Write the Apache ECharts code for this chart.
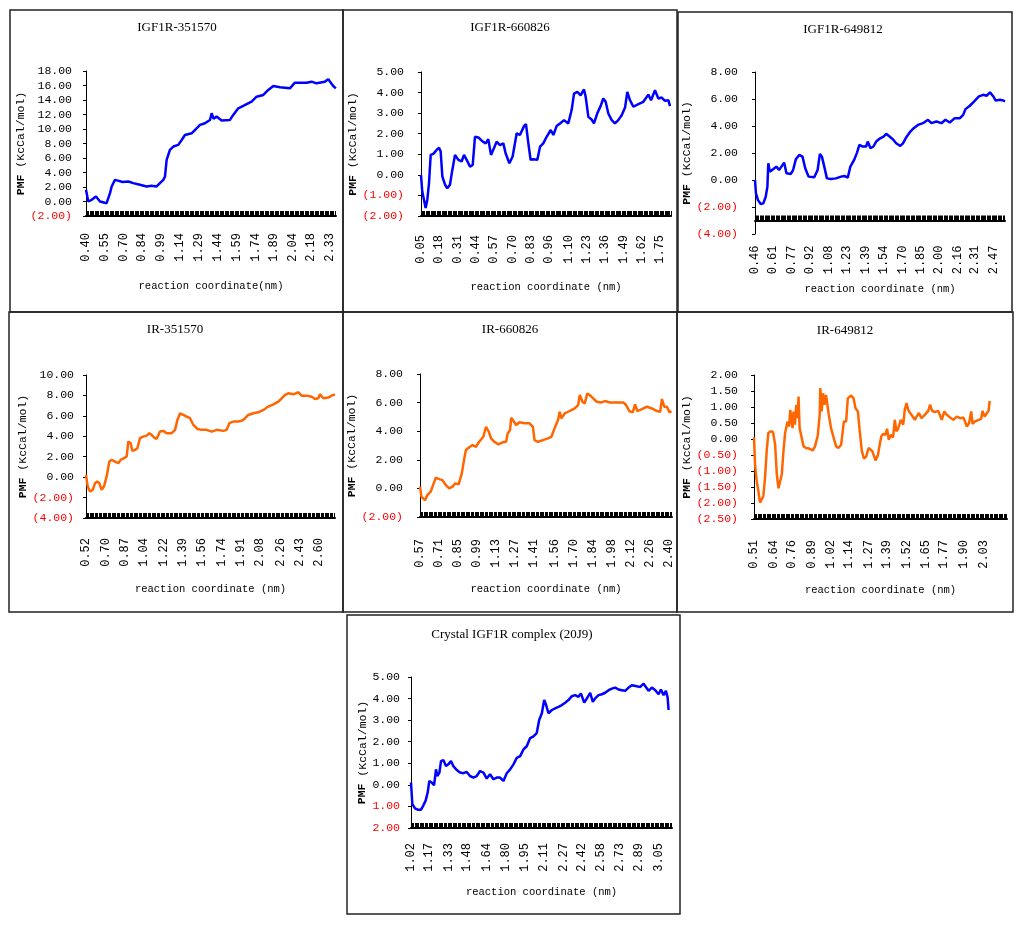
<!DOCTYPE html>
<html><head><meta charset="utf-8">
<script src="https://cdn.jsdelivr.net/npm/echarts@6/dist/echarts.min.js"></script>
<style>html,body{margin:0;padding:0;background:#fff}#c{width:1024px;height:926px}</style>
</head><body><div id="c"></div>
<script>
// ---------- tick labels (reaction coordinate, nm) ----------
const ticksIGF351570 = [0.40,0.55,0.70,0.84,0.99,1.14,1.29,1.44,1.59,1.74,1.89,2.04,2.18,2.33];
const ticksIGF660826 = [0.05,0.18,0.31,0.44,0.57,0.70,0.83,0.96,1.10,1.23,1.36,1.49,1.62,1.75];
const ticksIGF649812 = [0.46,0.61,0.77,0.92,1.08,1.23,1.39,1.54,1.70,1.85,2.00,2.16,2.31,2.47];
const ticksIR351570  = [0.52,0.70,0.87,1.04,1.22,1.39,1.56,1.74,1.91,2.08,2.26,2.43,2.60];
const ticksIR660826  = [0.57,0.71,0.85,0.99,1.13,1.27,1.41,1.56,1.70,1.84,1.98,2.12,2.26,2.40];
const ticksIR649812  = [0.51,0.64,0.76,0.89,1.02,1.14,1.27,1.39,1.52,1.65,1.77,1.90,2.03];
const ticksCrystal   = [1.02,1.17,1.33,1.48,1.64,1.80,1.95,2.11,2.27,2.42,2.58,2.73,2.89,3.05];

// ---------- series: [reaction coordinate (nm), PMF (kcal/mol)] ----------
const dataIGF351570 = [[0.400,1.61],[0.418,0.00],[0.445,0.23],[0.479,0.69],[0.511,0.00],[0.524,-0.23],[0.563,-0.23],[0.590,1.15],[0.603,2.07],[0.629,2.98],[0.643,2.75],[0.690,2.70],[0.735,2.75],[0.774,2.53],[0.827,2.30],[0.880,2.07],[0.919,2.16],[0.959,2.07],[0.985,2.53],[1.012,2.98],[1.025,3.44],[1.038,5.74],[1.064,7.12],[1.091,7.58],[1.130,7.81],[1.157,8.49],[1.183,9.18],[1.236,9.41],[1.275,10.10],[1.302,10.56],[1.341,10.79],[1.381,11.25],[1.394,12.17],[1.410,11.40],[1.433,11.71],[1.473,11.16],[1.539,11.25],[1.565,11.94],[1.605,12.86],[1.644,13.18],[1.710,13.77],[1.750,14.46],[1.803,14.69],[1.842,15.38],[1.882,15.93],[1.934,15.75],[2.013,15.61],[2.053,16.39],[2.145,16.39],[2.185,16.53],[2.224,16.30],[2.290,16.53],[2.317,16.85],[2.356,15.93],[2.377,15.61]];
const dataIGF660826 = [[0.050,0.00],[0.059,-0.81],[0.071,-1.21],[0.083,-1.61],[0.095,-1.21],[0.107,-0.40],[0.119,0.97],[0.138,1.02],[0.161,1.21],[0.178,1.32],[0.190,1.13],[0.202,-0.08],[0.221,-0.48],[0.237,-0.65],[0.256,-0.48],[0.273,0.24],[0.292,0.97],[0.316,0.73],[0.339,0.65],[0.356,0.97],[0.375,0.73],[0.399,0.40],[0.418,0.48],[0.434,1.85],[0.458,1.82],[0.482,1.66],[0.510,1.53],[0.529,1.73],[0.548,0.97],[0.569,1.29],[0.588,1.61],[0.612,1.45],[0.636,1.53],[0.652,1.05],[0.679,0.56],[0.702,0.89],[0.731,2.02],[0.754,1.94],[0.783,2.37],[0.797,2.47],[0.814,1.53],[0.830,0.73],[0.849,0.76],[0.878,0.73],[0.897,1.37],[0.920,1.53],[0.944,1.85],[0.973,2.18],[0.992,1.94],[1.015,2.37],[1.039,2.50],[1.068,2.66],[1.098,2.50],[1.122,3.15],[1.139,3.95],[1.162,4.03],[1.186,3.87],[1.210,4.15],[1.222,3.79],[1.241,2.82],[1.264,2.69],[1.281,2.50],[1.305,3.00],[1.328,3.34],[1.347,3.71],[1.364,3.55],[1.383,2.98],[1.407,2.66],[1.430,2.50],[1.454,2.66],[1.478,2.90],[1.502,3.27],[1.518,4.03],[1.537,3.63],[1.561,3.31],[1.597,3.44],[1.632,3.55],[1.668,3.90],[1.687,3.63],[1.715,4.11],[1.739,3.71],[1.763,3.76],[1.786,3.60],[1.810,3.63],[1.822,3.34]];
const dataIGF649812 = [[0.460,0.00],[0.468,-0.99],[0.485,-1.49],[0.508,-1.78],[0.530,-1.73],[0.550,-1.24],[0.564,-0.50],[0.572,1.24],[0.584,0.62],[0.612,0.79],[0.640,0.99],[0.662,0.74],[0.682,0.99],[0.705,1.29],[0.724,0.50],[0.761,0.45],[0.780,0.74],[0.803,1.53],[0.831,1.86],[0.859,1.73],[0.882,0.87],[0.910,0.25],[0.958,0.20],[0.986,0.74],[1.005,1.93],[1.022,1.73],[1.042,0.99],[1.064,0.12],[1.098,0.07],[1.140,0.12],[1.183,0.25],[1.211,0.30],[1.239,0.17],[1.261,0.99],[1.295,1.53],[1.317,2.03],[1.337,2.60],[1.365,2.48],[1.393,2.48],[1.407,2.85],[1.430,2.35],[1.455,2.48],[1.478,2.85],[1.511,3.09],[1.540,3.22],[1.562,3.42],[1.590,3.22],[1.618,3.02],[1.646,2.72],[1.680,2.52],[1.703,2.72],[1.731,3.17],[1.765,3.59],[1.793,3.84],[1.829,4.08],[1.871,4.21],[1.913,4.46],[1.942,4.21],[1.984,4.33],[2.026,4.21],[2.060,4.46],[2.096,4.26],[2.138,4.58],[2.181,4.58],[2.209,4.83],[2.228,5.25],[2.265,5.50],[2.301,5.82],[2.341,6.19],[2.377,6.31],[2.405,6.24],[2.434,6.49],[2.462,6.19],[2.481,5.89],[2.518,5.94],[2.546,5.89],[2.560,5.82]];
const dataIR351570 = [[0.520,0.23],[0.535,-0.91],[0.556,-1.40],[0.580,-1.24],[0.601,-0.59],[0.621,-0.42],[0.639,-0.59],[0.660,-1.24],[0.681,-0.91],[0.705,0.07],[0.729,1.53],[0.750,1.69],[0.780,1.53],[0.809,1.37],[0.830,1.69],[0.860,1.86],[0.884,2.02],[0.899,3.49],[0.920,3.32],[0.935,2.57],[0.959,2.67],[0.980,2.83],[1.003,3.81],[1.033,3.97],[1.063,4.07],[1.087,4.30],[1.108,4.14],[1.129,3.88],[1.153,3.75],[1.182,4.46],[1.212,4.53],[1.242,4.30],[1.287,4.30],[1.317,4.63],[1.338,5.60],[1.362,6.25],[1.391,6.09],[1.421,5.93],[1.451,5.77],[1.481,5.11],[1.517,4.72],[1.556,4.63],[1.600,4.63],[1.645,4.46],[1.690,4.63],[1.749,4.53],[1.779,4.63],[1.803,5.28],[1.839,5.44],[1.884,5.44],[1.929,5.60],[1.973,6.09],[2.018,6.25],[2.063,6.35],[2.108,6.58],[2.152,6.91],[2.197,7.13],[2.242,7.39],[2.272,7.72],[2.302,8.05],[2.331,8.21],[2.376,8.11],[2.421,8.31],[2.451,7.98],[2.496,7.98],[2.540,7.88],[2.570,7.65],[2.600,7.72],[2.615,8.11],[2.645,7.72],[2.690,7.79],[2.719,7.98],[2.749,8.11]];
const dataIR660826 = [[0.570,0.12],[0.580,-0.58],[0.592,-0.70],[0.607,-0.82],[0.624,-0.47],[0.649,-0.23],[0.666,0.23],[0.686,0.75],[0.711,0.65],[0.735,0.58],[0.760,0.23],[0.785,0.00],[0.809,0.12],[0.829,0.35],[0.854,0.28],[0.878,1.05],[0.896,2.10],[0.908,2.68],[0.937,2.91],[0.957,3.03],[0.982,2.91],[1.006,3.26],[1.036,3.61],[1.056,4.31],[1.076,3.96],[1.093,3.50],[1.117,3.26],[1.147,3.08],[1.179,3.22],[1.204,3.26],[1.216,3.85],[1.233,4.08],[1.241,4.94],[1.253,4.78],[1.278,4.43],[1.302,4.62],[1.339,4.55],[1.376,4.55],[1.401,4.31],[1.413,3.38],[1.438,3.26],[1.475,3.38],[1.512,3.50],[1.537,3.61],[1.561,4.20],[1.586,4.78],[1.598,5.36],[1.611,4.90],[1.635,5.24],[1.660,5.36],[1.685,5.48],[1.709,5.59],[1.734,5.83],[1.746,6.53],[1.766,6.06],[1.783,5.94],[1.801,6.64],[1.820,6.53],[1.845,6.29],[1.870,6.06],[1.907,6.01],[1.931,6.11],[1.968,6.01],[2.018,6.01],[2.067,6.01],[2.087,5.83],[2.111,5.41],[2.136,5.31],[2.153,5.87],[2.170,5.41],[2.203,5.55],[2.240,5.71],[2.277,5.59],[2.314,5.41],[2.338,5.36],[2.351,6.25],[2.368,5.71],[2.388,5.71],[2.407,5.31],[2.420,5.41]];
const dataIR649812 = [[0.510,0.05],[0.517,-0.80],[0.528,-1.32],[0.539,-1.63],[0.550,-1.99],[0.559,-2.04],[0.572,-1.78],[0.583,-1.21],[0.594,-0.38],[0.605,0.19],[0.621,0.24],[0.636,0.22],[0.650,-0.18],[0.661,-1.11],[0.672,-1.54],[0.683,-1.52],[0.694,-1.11],[0.705,-0.38],[0.716,0.19],[0.732,0.55],[0.743,0.39],[0.750,0.91],[0.758,0.65],[0.765,0.34],[0.772,0.86],[0.781,0.45],[0.790,1.07],[0.798,0.65],[0.805,1.33],[0.812,0.34],[0.821,0.29],[0.838,-0.23],[0.854,-0.28],[0.876,-0.30],[0.898,-0.36],[0.914,-0.23],[0.932,0.11],[0.945,0.76],[0.949,1.59],[0.958,0.86],[0.967,1.43],[0.976,1.07],[0.987,1.38],[0.998,1.38],[1.005,0.76],[1.020,0.34],[1.038,0.03],[1.054,-0.23],[1.069,-0.28],[1.087,-0.18],[1.105,0.55],[1.120,0.55],[1.131,1.27],[1.153,1.36],[1.169,1.27],[1.182,0.96],[1.198,0.86],[1.209,0.29],[1.224,-0.38],[1.238,-0.61],[1.253,-0.54],[1.269,-0.28],[1.282,-0.23],[1.293,-0.38],[1.304,-0.44],[1.315,-0.67],[1.331,-0.49],[1.342,-0.18],[1.353,0.08],[1.364,0.16],[1.380,0.13],[1.391,0.32],[1.402,-0.02],[1.416,0.13],[1.431,0.05],[1.442,0.60],[1.453,0.24],[1.464,0.32],[1.482,0.60],[1.498,0.45],[1.508,0.91],[1.520,1.12],[1.531,0.91],[1.544,0.81],[1.557,0.76],[1.575,0.60],[1.586,0.70],[1.602,0.81],[1.619,0.65],[1.642,0.76],[1.664,0.88],[1.675,1.07],[1.690,0.88],[1.708,0.84],[1.730,0.88],[1.753,0.60],[1.770,0.86],[1.786,0.76],[1.808,0.67],[1.830,0.60],[1.852,0.70],[1.875,0.65],[1.897,0.67],[1.919,0.39],[1.934,0.50],[1.948,0.86],[1.957,0.47],[1.974,0.55],[1.997,0.60],[2.014,0.63],[2.023,0.88],[2.037,0.70],[2.052,0.81],[2.063,0.88],[2.070,1.19]];
const dataCrystal = [[1.020,0.11],[1.031,-0.89],[1.053,-1.09],[1.075,-1.15],[1.102,-1.15],[1.121,-0.96],[1.140,-0.73],[1.157,-0.35],[1.170,0.18],[1.190,0.11],[1.209,-0.02],[1.225,0.72],[1.236,0.41],[1.253,0.57],[1.266,1.10],[1.285,1.15],[1.307,0.87],[1.326,0.95],[1.348,1.10],[1.367,0.87],[1.395,0.69],[1.422,0.57],[1.450,0.54],[1.477,0.60],[1.504,0.41],[1.532,0.34],[1.559,0.41],[1.586,0.64],[1.614,0.57],[1.641,0.29],[1.668,0.49],[1.696,0.26],[1.723,0.34],[1.750,0.34],[1.778,0.18],[1.805,0.54],[1.833,0.72],[1.860,0.95],[1.887,1.25],[1.915,1.33],[1.942,1.64],[1.969,1.79],[1.997,2.17],[2.024,2.25],[2.051,2.40],[2.071,3.01],[2.093,3.32],[2.112,3.93],[2.128,3.70],[2.147,3.32],[2.175,3.47],[2.202,3.55],[2.229,3.62],[2.257,3.70],[2.284,3.81],[2.311,3.93],[2.339,4.11],[2.366,4.16],[2.393,4.08],[2.413,4.24],[2.440,3.81],[2.467,4.05],[2.489,4.27],[2.511,3.85],[2.530,4.01],[2.558,4.16],[2.585,4.20],[2.612,4.27],[2.640,4.39],[2.667,4.46],[2.694,4.51],[2.722,4.42],[2.749,4.39],[2.776,4.36],[2.804,4.51],[2.831,4.62],[2.872,4.57],[2.900,4.54],[2.927,4.69],[2.949,4.51],[2.968,4.36],[2.995,4.51],[3.023,4.39],[3.050,4.20],[3.069,4.42],[3.091,4.16],[3.110,4.36],[3.124,4.05],[3.132,3.47]];

// ---------- layout / styling ----------
const BLUE = '#0000FF', ORANGE = '#FF6600';
const MONO = "'Liberation Mono','DejaVu Sans Mono',monospace";
const SERIF = "'Liberation Serif','DejaVu Serif',serif";
const panels = [
 {title:'IGF1R-351570', data:dataIGF351570, ticks:ticksIGF351570, color:BLUE, y:[-2,18,2], neg:'paren', xName:'reaction coordinate(nm)',
  box:[10,10,333,302], grid:[86,71,250,145], xMax:2.378, tPos:[177,21], yLM:14, xLM:17, xNG:65, yNG:53},
 {title:'IGF1R-660826', data:dataIGF660826, ticks:ticksIGF660826, color:BLUE, y:[-2,5,1], neg:'paren', xName:'reaction coordinate (nm)',
  box:[343,10,334,302], grid:[421,72,250,144], xMax:1.829, tPos:[510,21], yLM:17, xLM:19, xNG:66, yNG:53},
 {title:'IGF1R-649812', data:dataIGF649812, ticks:ticksIGF649812, color:BLUE, y:[-4,8,2], neg:'paren', xName:'reaction coordinate (nm)',
  box:[678,12,334,300], grid:[755,72,250,162], xMax:2.560, tPos:[843,23], yLM:17, xLM:25, xNG:63, yNG:54, crossAt:-3},
 {title:'IR-351570', data:dataIR351570, ticks:ticksIR351570, color:ORANGE, y:[-4,10,2], neg:'paren', xName:'reaction coordinate (nm)',
  box:[9,312,334,300], grid:[86,375,249,143], xMax:2.749, tPos:[175,323], yLM:12, xLM:20, xNG:66, yNG:53},
 {title:'IR-660826', data:dataIR660826, ticks:ticksIR660826, color:ORANGE, y:[-2,8,2], neg:'paren', xName:'reaction coordinate (nm)',
  box:[343,312,334,300], grid:[420,374,252,143], xMax:2.425, tPos:[510,323], yLM:17, xLM:22, xNG:67, yNG:53},
 {title:'IR-649812', data:dataIR649812, ticks:ticksIR649812, color:ORANGE, y:[-2.5,2,0.5], neg:'paren', xName:'reaction coordinate (nm)',
  box:[677,312,336,300], grid:[754,375,253,144], xMax:2.185, tPos:[845,324], yLM:16, xLM:21, xNG:66, yNG:52},
 {title:'Crystal IGF1R complex (20J9)', data:dataCrystal, ticks:ticksCrystal, color:BLUE, y:[-2,5,1], neg:'plain', xName:'reaction coordinate (nm)',
  box:[347,615,333,299], grid:[411,677,261,151], xMax:3.160, tPos:[512,628], yLM:11, xLM:15, xNG:59, yNG:40}
];

// dense tick marks between the labelled positions (axis decoration)
function denseTicks(ticks, max, n) {
  const out = [];
  const step = (ticks[ticks.length - 1] - ticks[0]) / (ticks.length - 1) / n;
  for (let k = 0; ticks[0] + k * step <= max + 1e-9; k++) out.push(+(ticks[0] + k * step).toFixed(5));
  return out;
}

const grids = [], xAxes = [], yAxes = [], series = [], titles = [], graphics = [];
panels.forEach((p, i) => {
  const [gl, gt, gw, gh] = p.grid;
  grids.push({left: gl, top: gt, width: gw, height: gh});
  const [ymin, ymax, yint] = p.y;
  const offset = p.crossAt !== undefined ? -gh * (p.crossAt - ymin) / (ymax - ymin) : 0;
  xAxes.push({
    type: 'value', gridIndex: i, min: p.ticks[0], max: p.xMax, offset: offset,
    axisLine: {show: true, onZero: false, lineStyle: {color: '#000', width: 2}},
    axisTick: {show: true, inside: true, length: 5, customValues: denseTicks(p.ticks, p.xMax, 15), lineStyle: {color: '#000', width: 1}},
    axisLabel: {show: true, customValues: p.ticks, rotate: 90, margin: p.xLM, formatter: v => v.toFixed(2),
      fontFamily: MONO, fontSize: 12, color: '#000'},
    splitLine: {show: false},
    name: p.xName, nameLocation: 'middle', nameGap: p.xNG,
    nameTextStyle: {fontFamily: MONO, fontSize: 10.5, color: '#000'}
  });
  const neg = p.neg;
  yAxes.push({
    type: 'value', gridIndex: i, min: ymin, max: ymax, interval: yint,
    axisLine: {show: true, onZero: false, lineStyle: {color: '#000', width: 1}},
    axisTick: {show: true, length: 3, lineStyle: {color: '#000', width: 1}},
    splitLine: {show: false},
    axisLabel: {margin: p.yLM, fontFamily: MONO, fontSize: 11.5, color: '#000',
      formatter: v => {
        if (v < -1e-9) {
          const a = Math.abs(v).toFixed(2);
          return neg === 'paren' ? '{n|(' + a + ')}' : '{n|' + a + '}';
        }
        return Math.abs(v).toFixed(2);
      },
      rich: {n: {color: '#FF0000', fontFamily: MONO, fontSize: 11.5}}},
    name: '{b|PMF} (KcCal/mol)', nameLocation: 'middle', nameGap: p.yNG, nameRotate: 90,
    nameTextStyle: {fontFamily: MONO, fontSize: 11.5, color: '#000',
      rich: {b: {fontFamily: MONO, fontSize: 11.5, fontWeight: 'bold', color: '#000'}}}
  });
  series.push({
    type: 'line', name: p.title, xAxisIndex: i, yAxisIndex: i, data: p.data,
    symbol: 'none', showSymbol: false, silent: true,
    lineStyle: {color: p.color, width: 2.5}, itemStyle: {color: p.color}
  });
  titles.push({text: p.title, left: p.tPos[0], top: p.tPos[1], textAlign: 'center', padding: 0,
    textStyle: {fontFamily: SERIF, fontSize: 13, fontWeight: 'normal', color: '#000'}});
  graphics.push({type: 'rect', silent: true, z: -1,
    shape: {x: p.box[0], y: p.box[1], width: p.box[2], height: p.box[3]},
    style: {fill: 'none', stroke: '#222', lineWidth: 1.5}});
});

const chart = echarts.init(document.getElementById('c'), null, {renderer: 'canvas'});
chart.setOption({
  animation: false,
  backgroundColor: '#fff',
  title: titles,
  grid: grids,
  xAxis: xAxes,
  yAxis: yAxes,
  series: series,
  graphic: graphics
});
</script>
</body></html>
